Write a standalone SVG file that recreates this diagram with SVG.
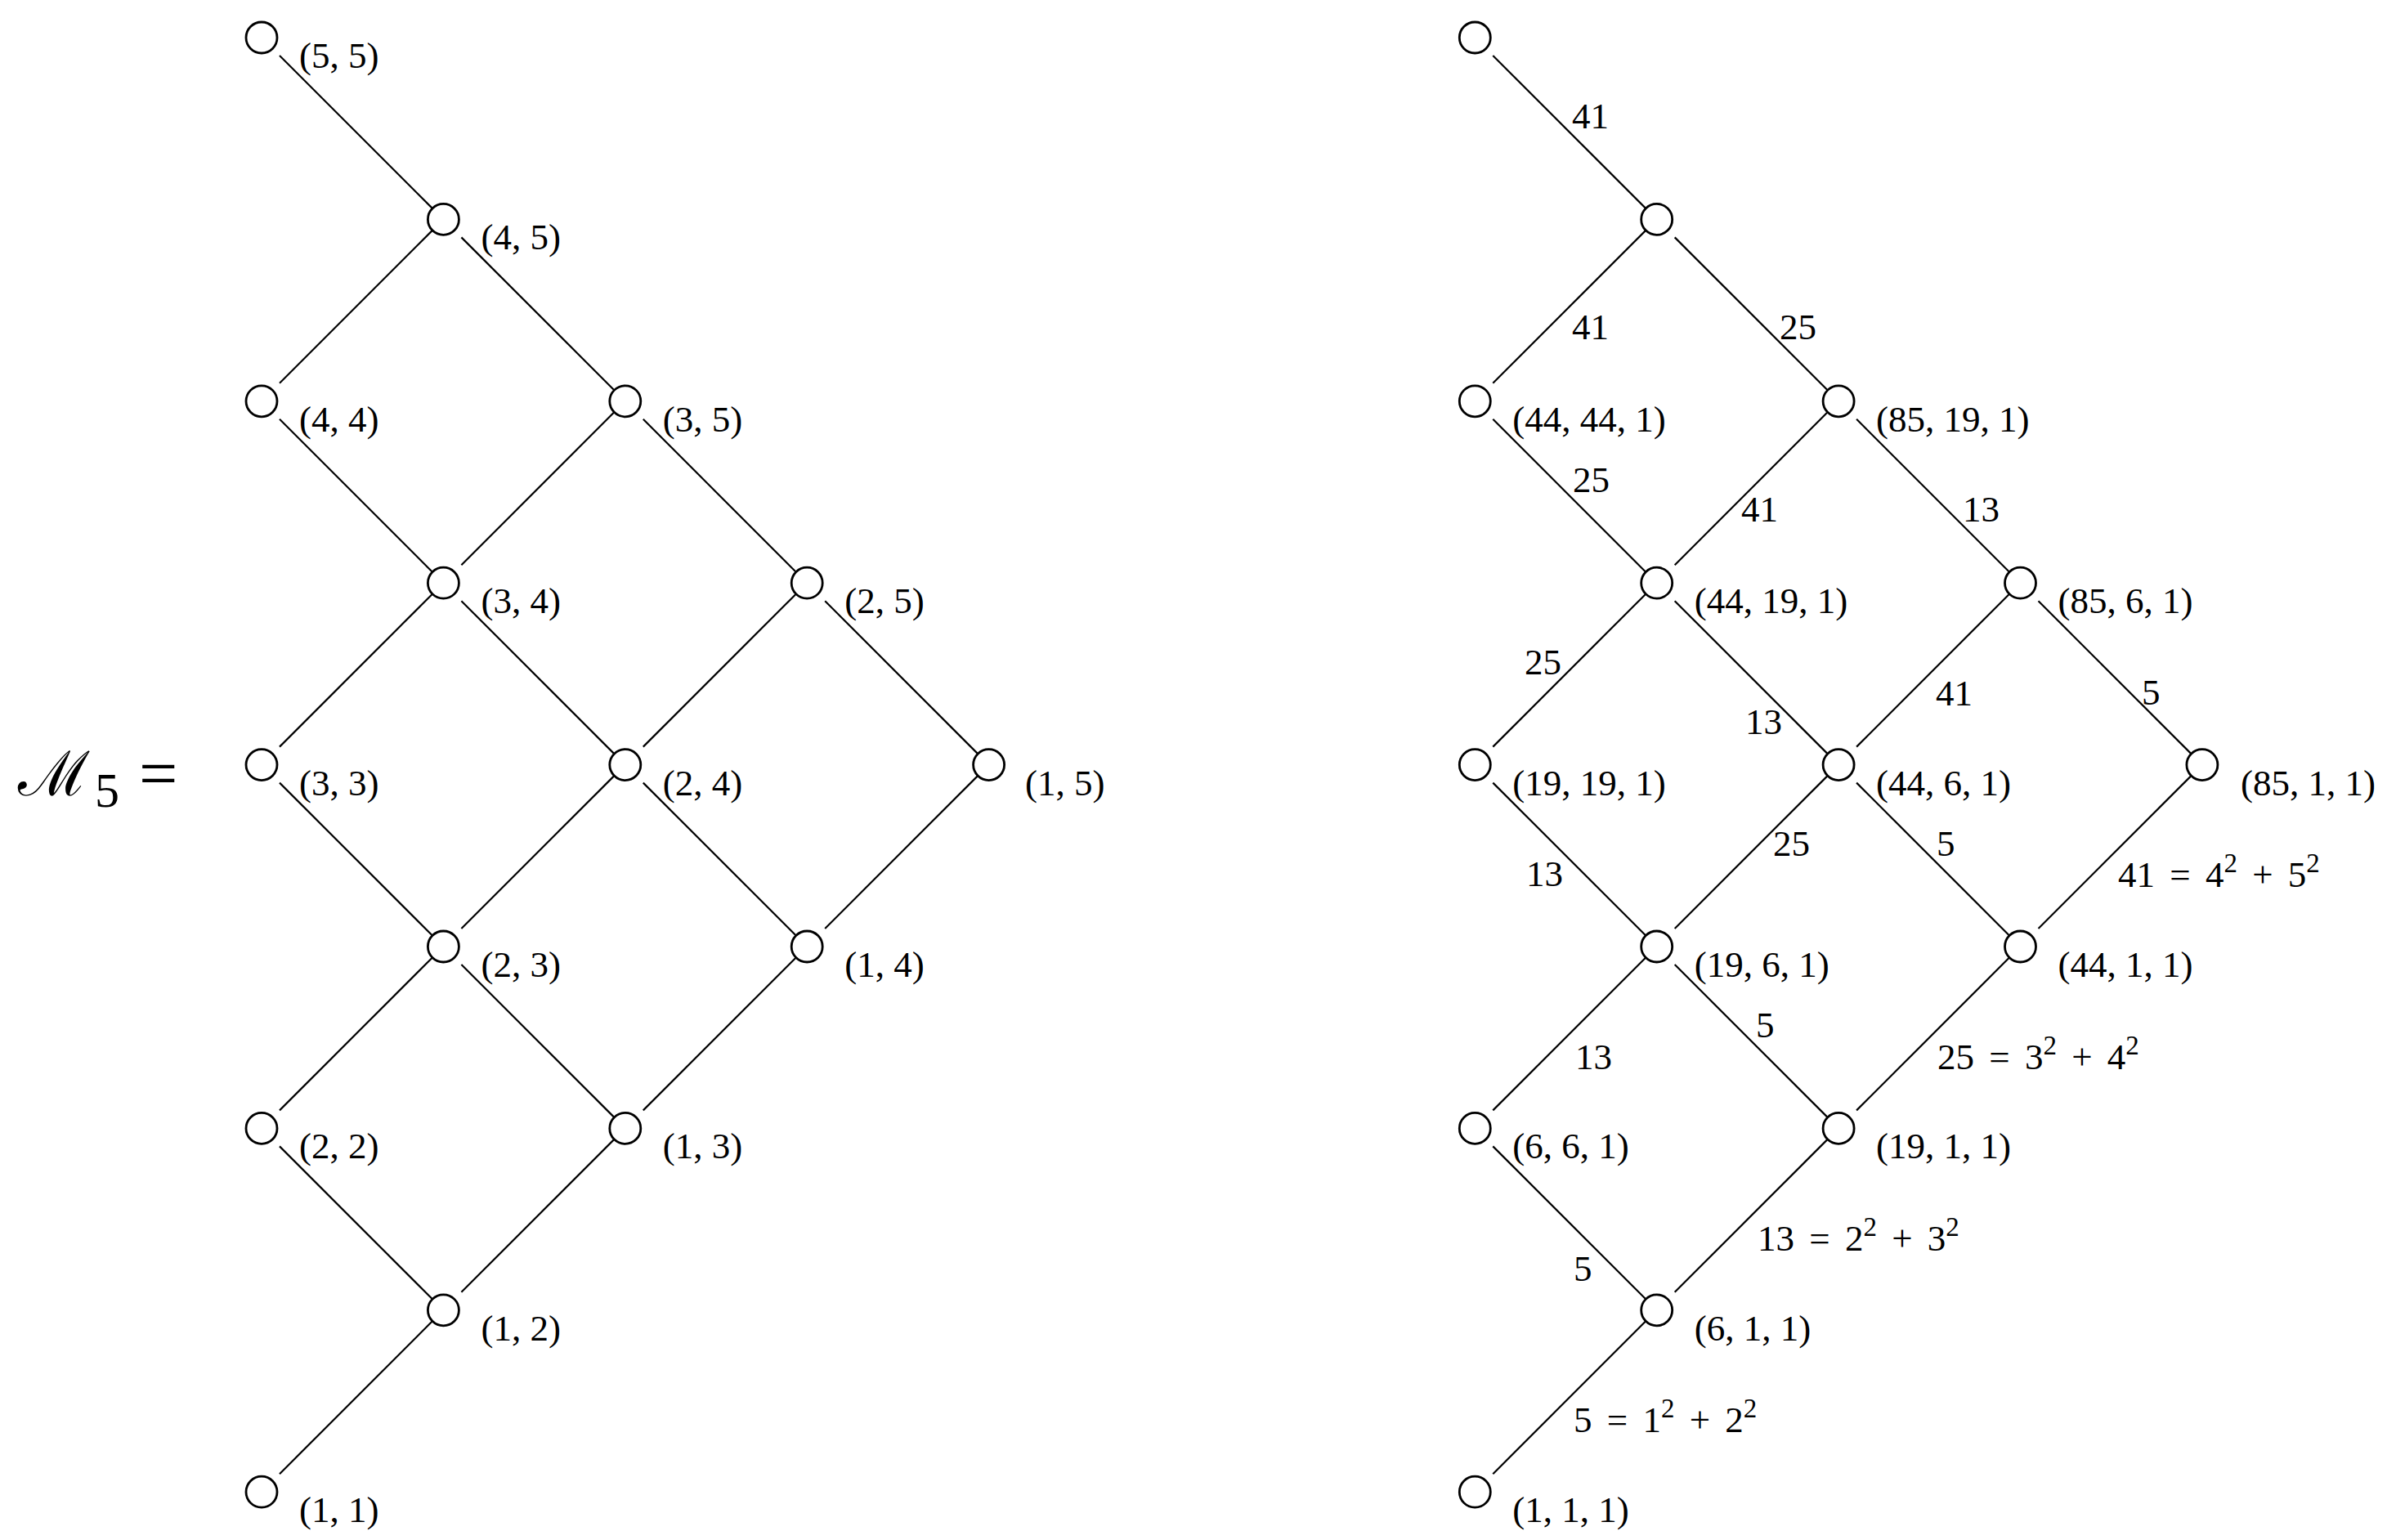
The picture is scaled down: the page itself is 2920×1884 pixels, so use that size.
<svg xmlns="http://www.w3.org/2000/svg" width="2920" height="1884" viewBox="0 0 2920 1884">
<style>
.bg{fill:#ffffff}
.nd{fill:#ffffff;stroke:#000;stroke-width:2.8}
.ed{stroke:#000000;stroke-width:2.2;stroke-linecap:butt;fill:none}
.lbl{font-family:"Liberation Serif","Times New Roman",serif;font-size:45px;fill:#000}
.eq{word-spacing:7px}
.sup{font-size:33px}
</style>
<rect class="bg" x="0" y="0" width="2920" height="1884"/>
<defs>
<g id="edgeset" stroke="#000000" stroke-width="2.2" fill="none">
<line x1="22" y1="22" x2="208.4" y2="208.4"/>
<line x1="22" y1="422.8" x2="208.4" y2="236.4"/>
<line x1="244.4" y1="244.4" x2="430.8" y2="430.8"/>
<line x1="22" y1="466.8" x2="208.4" y2="653.2"/>
<line x1="244.4" y1="645.2" x2="430.8" y2="458.8"/>
<line x1="466.8" y1="466.8" x2="653.2" y2="653.2"/>
<line x1="22" y1="867.6" x2="208.4" y2="681.2"/>
<line x1="244.4" y1="689.2" x2="430.8" y2="875.6"/>
<line x1="466.8" y1="867.6" x2="653.2" y2="681.2"/>
<line x1="689.2" y1="689.2" x2="875.6" y2="875.6"/>
<line x1="22" y1="911.6" x2="208.4" y2="1098"/>
<line x1="244.4" y1="1090" x2="430.8" y2="903.6"/>
<line x1="466.8" y1="911.6" x2="653.2" y2="1098"/>
<line x1="689.2" y1="1090" x2="875.6" y2="903.6"/>
<line x1="22" y1="1312.4" x2="208.4" y2="1126"/>
<line x1="244.4" y1="1134" x2="430.8" y2="1320.4"/>
<line x1="466.8" y1="1312.4" x2="653.2" y2="1126"/>
<line x1="22" y1="1356.4" x2="208.4" y2="1542.8"/>
<line x1="244.4" y1="1534.8" x2="430.8" y2="1348.4"/>
<line x1="22" y1="1757.2" x2="208.4" y2="1570.8"/>
</g>
</defs>

<g id="connectors">
<g class="ed" id="edges-left" transform="translate(320,46)"><use href="#edgeset"/></g>
<g class="ed" id="edges-right" transform="translate(1804.3,46)"><use href="#edgeset"/></g>
</g>

<g id="title">
<text x="22" y="973" font-family="DejaVu Serif, serif" font-size="76">ℳ</text>
<text x="116" y="987" font-family="Liberation Serif, serif" font-size="60">5</text>
<text x="170" y="975" font-family="Liberation Serif, serif" font-size="84">=</text>
</g>

<!-- left lattice nodes -->
<g id="L55"><circle class="nd" cx="320" cy="46" r="19"/><text class="lbl" x="366" y="83">(5, 5)</text></g>
<g id="L45"><circle class="nd" cx="542.4" cy="268.4" r="19"/><text class="lbl" x="588.4" y="305.4">(4, 5)</text></g>
<g id="L44"><circle class="nd" cx="320" cy="490.8" r="19"/><text class="lbl" x="366" y="527.8">(4, 4)</text></g>
<g id="L35"><circle class="nd" cx="764.8" cy="490.8" r="19"/><text class="lbl" x="810.8" y="527.8">(3, 5)</text></g>
<g id="L34"><circle class="nd" cx="542.4" cy="713.2" r="19"/><text class="lbl" x="588.4" y="750.2">(3, 4)</text></g>
<g id="L25"><circle class="nd" cx="987.2" cy="713.2" r="19"/><text class="lbl" x="1033.2" y="750.2">(2, 5)</text></g>
<g id="L33"><circle class="nd" cx="320" cy="935.6" r="19"/><text class="lbl" x="366" y="972.6">(3, 3)</text></g>
<g id="L24"><circle class="nd" cx="764.8" cy="935.6" r="19"/><text class="lbl" x="810.8" y="972.6">(2, 4)</text></g>
<g id="L15"><circle class="nd" cx="1209.6" cy="935.6" r="19"/><text class="lbl" x="1254" y="972.6">(1, 5)</text></g>
<g id="L23"><circle class="nd" cx="542.4" cy="1158" r="19"/><text class="lbl" x="588.4" y="1195">(2, 3)</text></g>
<g id="L14"><circle class="nd" cx="987.2" cy="1158" r="19"/><text class="lbl" x="1033.2" y="1195">(1, 4)</text></g>
<g id="L22"><circle class="nd" cx="320" cy="1380.4" r="19"/><text class="lbl" x="366" y="1417.4">(2, 2)</text></g>
<g id="L13"><circle class="nd" cx="764.8" cy="1380.4" r="19"/><text class="lbl" x="810.8" y="1417.4">(1, 3)</text></g>
<g id="L12"><circle class="nd" cx="542.4" cy="1602.8" r="19"/><text class="lbl" x="588.4" y="1639.8">(1, 2)</text></g>
<g id="L11"><circle class="nd" cx="320" cy="1825.2" r="19"/><text class="lbl" x="366" y="1862.2">(1, 1)</text></g>

<!-- right lattice nodes -->
<g id="R00"><circle class="nd" cx="1804.3" cy="46" r="19"/></g>
<g id="R11"><circle class="nd" cx="2026.7" cy="268.4" r="19"/></g>
<g id="R20"><circle class="nd" cx="1804.3" cy="490.8" r="19"/><text class="lbl" x="1850.3" y="527.8">(44, 44, 1)</text></g>
<g id="R22"><circle class="nd" cx="2249.1" cy="490.8" r="19"/><text class="lbl" x="2295.1" y="527.8">(85, 19, 1)</text></g>
<g id="R31"><circle class="nd" cx="2026.7" cy="713.2" r="19"/><text class="lbl" x="2072.7" y="750.2">(44, 19, 1)</text></g>
<g id="R33"><circle class="nd" cx="2471.5" cy="713.2" r="19"/><text class="lbl" x="2517.5" y="750.2">(85, 6, 1)</text></g>
<g id="R40"><circle class="nd" cx="1804.3" cy="935.6" r="19"/><text class="lbl" x="1850.3" y="972.6">(19, 19, 1)</text></g>
<g id="R42"><circle class="nd" cx="2249.1" cy="935.6" r="19"/><text class="lbl" x="2295.1" y="972.6">(44, 6, 1)</text></g>
<g id="R44"><circle class="nd" cx="2693.9" cy="935.6" r="19"/><text class="lbl" x="2741" y="972.6">(85, 1, 1)</text></g>
<g id="R51"><circle class="nd" cx="2026.7" cy="1158" r="19"/><text class="lbl" x="2072.7" y="1195">(19, 6, 1)</text></g>
<g id="R53"><circle class="nd" cx="2471.5" cy="1158" r="19"/><text class="lbl" x="2517.5" y="1195">(44, 1, 1)</text></g>
<g id="R60"><circle class="nd" cx="1804.3" cy="1380.4" r="19"/><text class="lbl" x="1850.3" y="1417.4">(6, 6, 1)</text></g>
<g id="R62"><circle class="nd" cx="2249.1" cy="1380.4" r="19"/><text class="lbl" x="2295.1" y="1417.4">(19, 1, 1)</text></g>
<g id="R71"><circle class="nd" cx="2026.7" cy="1602.8" r="19"/><text class="lbl" x="2072.7" y="1639.8">(6, 1, 1)</text></g>
<g id="R80"><circle class="nd" cx="1804.3" cy="1825.2" r="19"/><text class="lbl" x="1850.3" y="1862.2">(1, 1, 1)</text></g>

<!-- edge labels -->
<g id="edge-labels">
<text class="lbl" x="1923" y="157">41</text>
<text class="lbl" x="1923" y="415">41</text>
<text class="lbl" x="2177" y="415">25</text>
<text class="lbl" x="1924" y="602">25</text>
<text class="lbl" x="2130" y="638">41</text>
<text class="lbl" x="2401" y="638">13</text>
<text class="lbl" x="1865" y="825">25</text>
<text class="lbl" x="2135" y="898">13</text>
<text class="lbl" x="2368" y="863">41</text>
<text class="lbl" x="2620" y="862">5</text>
<text class="lbl" x="1867" y="1084">13</text>
<text class="lbl" x="2169" y="1047">25</text>
<text class="lbl" x="2369" y="1047">5</text>
<text class="lbl eq" x="2591" y="1085">41 = 4<tspan class="sup" dy="-18">2</tspan><tspan dy="18"> + 5</tspan><tspan class="sup" dy="-18">2</tspan></text>
<text class="lbl" x="1927" y="1308">13</text>
<text class="lbl" x="2148" y="1269">5</text>
<text class="lbl eq" x="2370" y="1308">25 = 3<tspan class="sup" dy="-18">2</tspan><tspan dy="18"> + 4</tspan><tspan class="sup" dy="-18">2</tspan></text>
<text class="lbl" x="1925" y="1567">5</text>
<text class="lbl eq" x="2150" y="1530">13 = 2<tspan class="sup" dy="-18">2</tspan><tspan dy="18"> + 3</tspan><tspan class="sup" dy="-18">2</tspan></text>
<text class="lbl eq" x="1925" y="1752">5 = 1<tspan class="sup" dy="-18">2</tspan><tspan dy="18"> + 2</tspan><tspan class="sup" dy="-18">2</tspan></text>
</g>
</svg>
